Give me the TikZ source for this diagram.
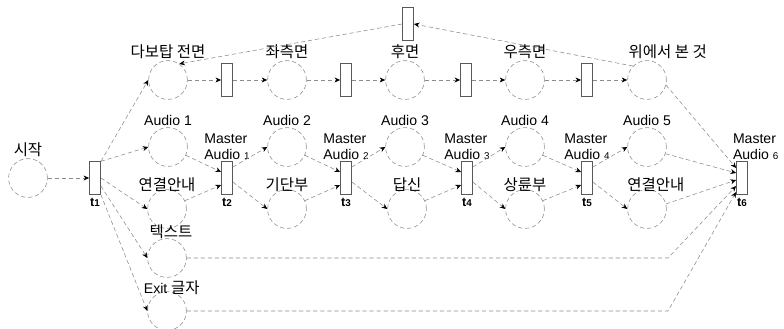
\documentclass[tikz,border=0pt]{standalone}
\usepackage{fontspec}
\setmainfont{Liberation Sans}
\newfontfamily\krfont{Noto Sans CJK KR}
\usetikzlibrary{arrows.meta}

\begin{document}
\begin{tikzpicture}[x=0.025cm, y=-0.025cm,
        place/.style={circle, draw=black!45, densely dashed, minimum size=0.97cm, inner sep=0pt},
        trans/.style={rectangle, draw=black!65, fill=white, minimum width=0.28cm, minimum height=0.82cm, inner sep=0pt},
        flow/.style={draw=black!45, densely dashed, -{Stealth[length=4pt,width=3.5pt,black]}},
        txt/.style={font=\fontsize{10}{11.5}\selectfont, inner sep=1pt},
        krtxt/.style={font=\krfont\fontsize{11}{13}\selectfont, inner sep=1pt},
        tlab/.style={font=\small\bfseries, inner sep=2pt}]
            \useasboundingbox (0,0) rectangle (784,329);

            % start place and t1
            \node (s) at (28,178) [place] {};
            \node [krtxt, anchor=south] at (s.north) {시작};
            \node (t1) at (95,178) [trans] {};
            \node [tlab, anchor=north] at (t1.south) {t{\scriptsize 1}};

            % top row: views
            \node (p1) at (168,80) [place] {};
            \node [krtxt, anchor=south] at (p1.north) {다보탑 전면};
            \node (q1) at (227,80) [trans] {};
            \node (p2) at (287,80) [place] {};
            \node [krtxt, anchor=south] at (p2.north) {좌측면};
            \node (q2) at (346,80) [trans] {};
            \node (p3) at (405,80) [place] {};
            \node [krtxt, anchor=south] at (p3.north) {후면};
            \node (q3) at (466,80) [trans] {};
            \node (p4) at (525,80) [place] {};
            \node [krtxt, anchor=south] at (p4.north) {우측면};
            \node (q4) at (587,80) [trans] {};
            \node (p5) at (647,80) [place] {};
            \node [krtxt, anchor=south west] at ([xshift=-0.5cm]p5.north) {위에서 본 것};
            \node (q0) at (408,24) [trans] {};

            % audio row
            \node (au1) at (168,147) [place] {};
            \node [txt, anchor=south] at (au1.north) {Audio 1};
            \node (au2) at (287,147) [place] {};
            \node [txt, anchor=south] at (au2.north) {Audio 2};
            \node (au3) at (405,147) [place] {};
            \node [txt, anchor=south] at (au3.north) {Audio 3};
            \node (au4) at (525,147) [place] {};
            \node [txt, anchor=south] at (au4.north) {Audio 4};
            \node (au5) at (647,147) [place] {};
            \node [txt, anchor=south] at (au5.north) {Audio 5};

            % guide row
            \node (g1) at (167,209) [place] {};
            \node [krtxt, anchor=south] at ([yshift=-0.1cm]g1.north) {연결안내};
            \node (g2) at (287,209) [place] {};
            \node [krtxt, anchor=south] at ([yshift=-0.1cm]g2.north) {기단부};
            \node (g3) at (407,209) [place] {};
            \node [krtxt, anchor=south] at ([yshift=-0.1cm]g3.north) {답신};
            \node (g4) at (525,209) [place] {};
            \node [krtxt, anchor=south] at ([yshift=-0.1cm]g4.north) {상륜부};
            \node (g5) at (647,209) [place] {};
            \node [krtxt, anchor=south] at ([xshift=0.22cm, yshift=-0.1cm]g5.north) {연결안내};

            % text and exit
            \node (tx) at (167,258) [place] {};
            \node [krtxt, anchor=south] at ([xshift=0.1cm, yshift=-0.05cm]tx.north) {텍스트};
            \node (ex) at (167,311) [place] {};
            \node [anchor=south, inner sep=1pt] at ([xshift=0.12cm, yshift=-0.12cm]ex.north) {\fontsize{10}{11.5}\selectfont Exit \krfont\fontsize{11}{13}\selectfont 글자};

            % master transitions
            \node (t2) at (227,178) [trans] {};
            \node [tlab, anchor=north] at (t2.south) {t{\scriptsize 2}};
            \node [txt, anchor=south, align=left] at (t2.north) {Master\\Audio {\scriptsize 1}};
            \node (t3) at (346,178) [trans] {};
            \node [tlab, anchor=north] at (t3.south) {t{\scriptsize 3}};
            \node [txt, anchor=south, align=left] at (t3.north) {Master\\Audio {\scriptsize 2}};
            \node (t4) at (467,178) [trans] {};
            \node [tlab, anchor=north] at (t4.south) {t{\scriptsize 4}};
            \node [txt, anchor=south, align=left] at (t4.north) {Master\\Audio {\scriptsize 3}};
            \node (t5) at (587,178) [trans] {};
            \node [tlab, anchor=north] at (t5.south) {t{\scriptsize 5}};
            \node [txt, anchor=south, align=left] at (t5.north) {Master\\Audio {\scriptsize 4}};
            \node (t6) at (742,178) [trans] {};
            \node [tlab, anchor=north] at (t6.south) {t{\scriptsize 6}};
            \node [txt, anchor=south west, align=left] at ([xshift=-0.12cm]t6.north west) {Master\\Audio {\scriptsize 6}};

            \coordinate (tbend) at (668,258);
            \coordinate (ebend) at (668,311);

            \draw [flow] (s) -- (t1.west);
            \draw [flow] (t1.north east) -- (p1.west);
            \draw [flow] (t1.north east) -- (au1.west);
            \draw [flow] (t1.east) -- (g1.west);
            \draw [flow] ([yshift=-0.2cm]t1.east) -- (tx.west);
            \draw [flow] (t1.south east) -- (ex.west);

            \draw [flow] (p1) -- (q1);
            \draw [flow] (q1) -- (p2);
            \draw [flow] (p2) -- (q2);
            \draw [flow] (q2) -- (p3);
            \draw [flow] (p3) -- (q3);
            \draw [flow] (q3) -- (p4);
            \draw [flow] (p4) -- (q4);
            \draw [flow] (q4) -- (p5);
            \draw [flow] (p5.135) -- (q0.east);
            \draw [flow] (q0.west) -- (p1.55);

            \draw [flow] (au1.-25) -- ([yshift=0.15cm]t2.west);
            \draw [flow] (g1.25) -- ([yshift=-0.175cm]t2.west);
            \draw [flow] ([yshift=0.275cm]t2.east) -- (au2.west);
            \draw [flow] ([yshift=-0.1cm]t2.east) -- (g2.west);
            \draw [flow] (au2.-25) -- ([yshift=0.15cm]t3.west);
            \draw [flow] (g2.25) -- ([yshift=-0.175cm]t3.west);
            \draw [flow] ([yshift=0.275cm]t3.east) -- (au3.west);
            \draw [flow] ([yshift=-0.1cm]t3.east) -- (g3.west);
            \draw [flow] (au3.-25) -- ([yshift=0.15cm]t4.west);
            \draw [flow] (g3.25) -- ([yshift=-0.175cm]t4.west);
            \draw [flow] ([yshift=0.275cm]t4.east) -- (au4.west);
            \draw [flow] ([yshift=-0.1cm]t4.east) -- (g4.west);
            \draw [flow] (au4.-25) -- ([yshift=0.15cm]t5.west);
            \draw [flow] (g4.25) -- ([yshift=-0.175cm]t5.west);
            \draw [flow] ([yshift=0.275cm]t5.east) -- (au5.west);
            \draw [flow] ([yshift=-0.1cm]t5.east) -- (g5.west);

            \draw [flow] (p5.-15) -- ([yshift=0.25cm]t6.west);
            \draw [flow] (au5.-20) -- ([yshift=0.125cm]t6.west);
            \draw [flow] (g5.15) -- ([yshift=-0.05cm]t6.west);
            \draw [flow] (tx.east) -- (tbend) -- ([yshift=-0.2cm]t6.west);
            \draw [flow] (ex.east) -- (ebend) -- ([yshift=-0.35cm]t6.west);
        \end{tikzpicture}
\end{document}
